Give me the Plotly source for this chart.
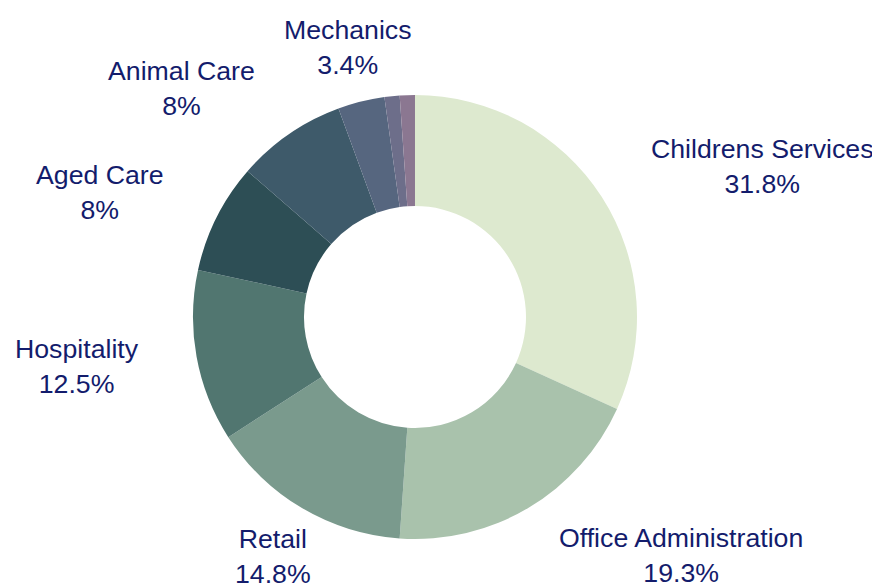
import math
import plotly.graph_objects as go

# Share of enrolments by course area
categories = ["Childrens Services", "Office Administration", "Retail", "Hospitality",
              "Aged Care", "Animal Care", "Mechanics", "Other A", "Other B"]
shares = [31.8, 19.3, 14.8, 12.5, 8, 8, 3.4, 1.1, 1.1]
show_label = [True, True, True, True, True, True, True, False, False]

# label styling: which side of the anchor point the text sits on
label_anchor = ["left", "left", "center", "right", "right", "right", "center", None, None]

colors = ["#dde9cf", "#a9c2ac", "#7a9a8d", "#517670", "#2d4e55",
          "#3e5a6a", "#56667f", "#6d6e8a", "#8b7791"]

W, H = 872, 586
DOM_X = [0.2213, 0.7305]
DOM_Y = [0.0802, 0.8379]
LABEL_RADIUS = 278  # px from the pie centre
TEXT_COLOR = "#131c6c"
FONT = "Liberation Sans, Arial, sans-serif"

fig = go.Figure(go.Pie(
    labels=categories,
    values=shares,
    textinfo="none",
    hole=0.5,
    sort=False,
    direction="clockwise",
    rotation=0,
    marker=dict(colors=colors, line=dict(width=0)),
    domain=dict(x=DOM_X, y=DOM_Y),
    showlegend=False,
    hoverinfo="label+value",
))

# outside labels placed at each slice's mid-angle
cx = (DOM_X[0] + DOM_X[1]) / 2
cy = (DOM_Y[0] + DOM_Y[1]) / 2
total = sum(shares)
cum = 0.0
annotations = []
for cat, val, show, anc in zip(categories, shares, show_label, label_anchor):
    mid = (cum + val / 2) / total * 2 * math.pi
    cum += val
    if not show:
        continue
    dx = math.sin(mid) * LABEL_RADIUS
    dy = math.cos(mid) * LABEL_RADIUS
    annotations.append(dict(
        x=cx + dx / W, y=cy + dy / H,
        xref="paper", yref="paper",
        text=f"{cat}<br>{val:g}%",
        showarrow=False,
        xanchor=anc, yanchor="middle", align="center",
        font=dict(family=FONT, size=26.7, color=TEXT_COLOR),
    ))

fig.update_layout(
    width=W, height=H,
    margin=dict(l=0, r=0, t=0, b=0),
    paper_bgcolor="white",
    plot_bgcolor="white",
    annotations=annotations,
)

fig.write_html("out.html")
